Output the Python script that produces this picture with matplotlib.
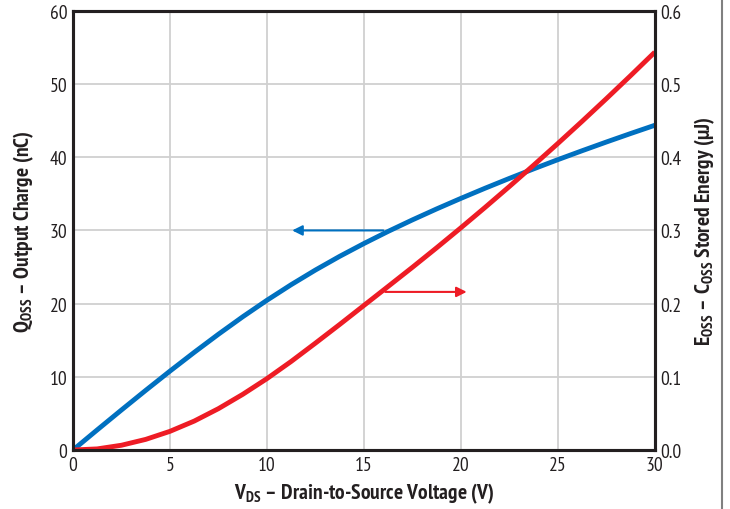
import matplotlib
matplotlib.use("Agg")
import matplotlib.pyplot as plt
from matplotlib.lines import Line2D

plt.rcParams['font.family'] = ['PT Sans Narrow', 'DejaVu Sans']
plt.rcParams['mathtext.fontset'] = 'custom'
plt.rcParams['mathtext.rm'] = 'PT Sans Narrow'
plt.rcParams['mathtext.bf'] = 'PT Sans Narrow:bold'

# values
vds = [0, 1.25, 2.5, 3.75, 5, 6.25, 7.5, 8.75, 10, 11.25, 12.5, 13.75, 15,
       16.25, 17.5, 18.75, 20, 21.25, 22.5, 23.75, 25, 26.25, 27.5, 28.75, 30]
qoss = [0, 2.75, 5.47, 8.15, 10.78, 13.34, 15.82, 18.2, 20.46, 22.59, 24.59,
        26.46, 28.21, 29.87, 31.44, 32.94, 34.38, 35.77, 37.11, 38.41, 39.67,
        40.89, 42.08, 43.24, 44.37]
eoss = [0, 0.0015, 0.0065, 0.0145, 0.0255, 0.0395, 0.0565, 0.076, 0.0975, 0.121,
        0.146, 0.1715, 0.1975, 0.2235, 0.2496, 0.2763, 0.3036, 0.3315, 0.36,
        0.3891, 0.4188, 0.4491, 0.48, 0.5115, 0.5436]

blue = '#0070c0'
red = '#ee1c25'

fig = plt.figure(figsize=(7.3, 5.1), dpi=100)
ax = fig.add_axes([0.1, 0.1157, 0.797, 0.861])
ax2 = ax.twinx()

ax.plot(vds, qoss, color=blue, lw=3.5, solid_capstyle='butt', solid_joinstyle='round')
ax2.plot(vds, eoss, color=red, lw=3.5, solid_capstyle='butt', solid_joinstyle='round')

ax.set_xlim(0, 30)
ax.set_ylim(0, 60)
ax2.set_ylim(0, 0.6)
ax.set_xticks(range(0, 31, 5))
ax.set_yticks(range(0, 61, 10))
ax2.set_yticks([i / 10 for i in range(7)])
ax2.set_yticklabels(['%.1f' % (i / 10) for i in range(7)])

ax.grid(True, color='#d0d0d0', lw=1.3)
ax.set_axisbelow(True)
for a in (ax, ax2):
    a.tick_params(length=0, labelsize=14, pad=4, labelcolor='#231f20')
    for s in a.spines.values():
        s.set_linewidth(2.2)
        s.set_color('#231f20')

ax.set_xlabel(r'V$_{\mathbf{DS}}$ – Drain-to-Source Voltage (V)', fontsize=15.5,
              fontweight='bold', labelpad=5, color='#231f20')
ax.set_ylabel(r'Q$_{\mathbf{OSS}}$ – Output Charge (nC)', fontsize=15.5,
              fontweight='bold', labelpad=10, color='#231f20')
ax2.set_ylabel(r'E$_{\mathbf{OSS}}$ – C$_{\mathbf{OSS}}$ Stored Energy (µJ)', fontsize=15.5,
               fontweight='bold', labelpad=8, color='#231f20')

ax.annotate('', xy=(11.3, 30), xytext=(16.0, 30),
            arrowprops=dict(arrowstyle='-|>', color=blue, lw=1.5,
                            mutation_scale=15, shrinkA=0, shrinkB=0))
ax2.annotate('', xy=(20.3, 0.216), xytext=(16.1, 0.216),
             arrowprops=dict(arrowstyle='-|>', color=red, lw=1.5,
                             mutation_scale=15, shrinkA=0, shrinkB=0))

fig.add_artist(Line2D([0.989, 0.989], [0, 1], color='#808080', lw=1.5,
                      transform=fig.transFigure))

fig.savefig('out.png', dpi=100)
